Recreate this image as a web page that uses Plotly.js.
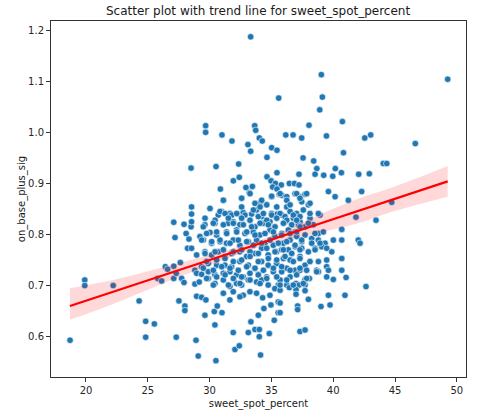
<!DOCTYPE html>
<html>
<head>
<meta charset="utf-8">
<script src="https://cdn.plot.ly/plotly-3.0.1.min.js"></script>
<style>html,body{margin:0;padding:0;background:#fff;}#chart{width:477px;height:414px;}</style>
</head>
<body>
<div id="chart"></div>
<script>
// sweet_spot_percent values (x) and on_base_plus_sig values (y)
const sweetSpot = [
  18.71,19.9,19.9,22.2,24.3,24.83,24.83,25.53,25.8,26.12,26.42,26.6,27.1,27.1,27.3,27.63,27.74,27.93,27.1,27.2,27.93,28.1,28.33,28.22,28.5,28.5,27.52,28.0,28.0,27.3,
  33.32,35.59,29.68,29.68,31.0,31.81,33.65,33.73,34.02,34.26,36.16,33.1,33.32,35.02,35.45,34.64,30.52,32.35,32.4,31.92,30.87,32.94,33.46,34.64,35.45,34.97,35.32,35.8,35.1,35.45,36.45,
  39.04,49.26,39.12,38.91,38.04,40.74,36.75,37.45,39.45,42.55,43.03,46.64,40.83,37.56,38.42,38.67,38.53,39.23,40.17,39.96,40.66,42.06,42.92,44.05,44.33,37.23,36.86,37.23,
  28.54,30.03,31.11,32.59,33.21,34.07,35.01,35.63,34.61,30.97,30.70,31.64,32.32,32.72,33.40,33.80,34.21,35.01,35.47,28.54,28.54,29.62,30.43,31.51,31.91,32.45,33.26,33.67,34.34,34.88,
  29.22,30.03,30.57,31.37,32.18,32.86,33.53,34.07,34.88,35.28,28.54,29.49,30.16,30.84,31.37,31.91,32.45,33.13,33.80,34.47,35.15,28.95,29.62,30.16,30.70,31.24,31.78,32.45,32.99,33.67,
  34.21,34.74,35.42,28.81,29.35,29.89,30.57,31.24,31.78,32.45,33.13,33.67,34.21,34.74,35.42,
  28.95,29.35,29.89,30.43,31.11,31.64,32.18,32.72,33.26,33.94,34.61,35.15,28.81,29.16,29.89,30.43,31.11,31.64,32.18,32.59,33.13,33.80,34.21,34.74,35.55,31.91,32.72,33.26,33.80,34.29,
  34.88,35.28,31.11,31.64,32.45,28.95,29.35,29.70,29.62,30.38,30.62,31.00,30.43,31.91,28.90,29.08,30.51,32.05,32.40,33.34,33.67,34.02,34.02,33.13,33.94,34.39,34.83,35.23,35.55,35.55,
  34.96,34.12,
  35.83,36.24,36.91,37.31,37.72,37.45,37.99,39.61,40.15,42.30,41.22,35.83,36.24,36.51,37.04,37.58,36.10,36.77,37.31,38.12,38.93,41.84,43.46,35.83,36.37,36.91,37.18,37.72,38.39,38.80,
  40.69,35.97,36.51,37.04,37.45,38.26,38.80,39.34,40.01,40.69,42.03,42.17,35.83,36.37,36.91,37.45,37.99,38.53,39.07,39.47,39.88,40.69,35.97,36.51,37.31,38.12,39.47,36.24,36.91,37.72,
  38.66,39.47,40.69,
  35.83,36.51,37.31,37.85,38.80,39.61,39.47,40.01,41.04,42.65,35.70,36.24,36.45,36.99,37.23,37.72,38.07,37.72,36.99,37.72,36.99,35.70,39.61,40.95,37.99,37.12,37.12,35.70,35.70,39.01,
  39.74,37.31,37.72,44.73
];
const onBasePlusSlg = [
  0.593,0.711,0.700,0.700,0.670,0.630,0.599,0.625,0.714,0.709,0.737,0.732,0.738,0.714,0.724,0.745,0.714,0.706,0.824,0.794,0.820,0.802,0.791,0.773,0.930,0.815,0.670,0.660,0.651,0.599,
  1.187,1.067,1.013,1.000,0.995,0.983,1.013,1.004,0.989,0.983,0.995,0.976,0.963,0.970,0.965,0.951,0.933,0.938,0.912,0.905,0.889,0.892,0.894,0.913,0.921,0.905,0.900,0.897,0.893,0.889,0.900,
  1.113,1.104,1.069,1.044,1.014,1.021,0.995,0.989,0.993,0.989,0.995,0.978,0.960,0.950,0.944,0.929,0.918,0.916,0.929,0.914,0.921,0.918,0.919,0.939,0.939,0.918,0.900,0.897,
  0.854,0.851,0.867,0.871,0.882,0.861,0.874,0.879,0.858,0.845,0.838,0.841,0.840,0.843,0.840,0.848,0.835,0.841,0.840,0.840,0.825,0.819,0.822,0.822,0.825,0.819,0.828,0.815,0.822,0.825,
  0.796,0.804,0.799,0.805,0.809,0.802,0.805,0.799,0.809,0.796,0.773,0.789,0.783,0.786,0.783,0.789,0.779,0.786,0.789,0.783,0.779,0.760,0.766,0.760,0.766,0.757,0.763,0.766,0.757,0.763,
  0.773,0.760,0.766,0.730,0.737,0.743,0.740,0.740,0.737,0.747,0.740,0.734,0.747,0.740,0.743,
  0.724,0.722,0.727,0.721,0.724,0.727,0.721,0.717,0.724,0.721,0.717,0.727,0.703,0.707,0.714,0.704,0.711,0.698,0.704,0.701,0.711,0.707,0.711,0.701,0.701,0.688,0.681,0.688,0.685,0.676,
  0.681,0.694,0.685,0.672,0.678,0.679,0.677,0.672,0.642,0.649,0.660,0.647,0.623,0.608,0.593,0.562,0.553,0.575,0.582,0.629,0.614,0.614,0.600,0.608,0.642,0.655,0.606,0.632,0.647,0.668,
  0.662,0.564,
  0.877,0.874,0.880,0.874,0.879,0.864,0.858,0.884,0.874,0.884,0.867,0.838,0.854,0.845,0.841,0.848,0.825,0.832,0.825,0.832,0.838,0.834,0.828,0.802,0.809,0.805,0.819,0.815,0.819,0.802,
  0.810,0.783,0.789,0.796,0.786,0.792,0.789,0.783,0.789,0.789,0.789,0.783,0.770,0.770,0.776,0.773,0.766,0.773,0.776,0.773,0.766,0.753,0.753,0.750,0.757,0.747,0.750,0.734,0.730,0.740,
  0.730,0.737,0.730,
  0.727,0.717,0.730,0.730,0.727,0.730,0.717,0.712,0.716,0.698,0.711,0.701,0.696,0.704,0.701,0.712,0.714,0.701,0.692,0.690,0.683,0.691,0.681,0.681,0.673,0.660,0.653,0.666,0.647,0.659,
  0.662,0.610,0.613,0.863
];
// additional points in the dense core of the cloud
const sweetSpotCore = [
  31.11,32.59,33.27,34.21,35.02,35.70,36.24,37.04,37.85,37.31,38.12,32.59,33.67,34.08,34.62,35.43,36.51,
  30.03,30.84,31.25,31.79,32.19,32.86,33.54,33.94,34.35,35.02,35.70,36.10,36.77,37.31,38.12,38.80,29.63,30.44,31.52,32.59,33.27,34.62,35.43,36.24,37.04,
  29.49,30.30,31.11,31.92,32.73,33.40,34.08,34.75,35.29,35.97,36.64,37.31,37.99,29.76,30.57,31.38,32.19,33.00,33.67,34.48,35.16,35.83,36.51,37.04,37.72,38.53,39.20,
  29.36,30.17,30.84,31.65,32.32,33.00,33.54,34.21,34.89,35.56,36.24,36.91,37.45,38.26,38.93,29.63,30.44,31.11,31.92,32.59,33.27,33.94,34.62,35.29,35.97,36.64,37.31,38.53,
  29.76,30.57,31.25,31.92,32.59,33.27,33.94,34.75,35.43,36.10,36.77,37.31,38.12,38.80,29.49,30.30,30.98,31.65,32.32,33.00,33.67,34.35,35.16,35.83,36.51,37.31,38.66,
  29.76,30.57,31.25,31.92,32.59,33.27,33.94,34.62,35.43,36.24,37.04,37.85,30.30,31.52,32.46,34.08,35.70,36.77,37.58
];
const opsCore = [
  0.867,0.871,0.880,0.867,0.875,0.880,0.867,0.880,0.880,0.871,0.861,0.854,0.861,0.854,0.858,0.854,0.858,
  0.851,0.845,0.841,0.838,0.841,0.838,0.848,0.835,0.841,0.838,0.841,0.835,0.838,0.835,0.841,0.841,0.832,0.828,0.832,0.832,0.828,0.828,0.832,0.828,0.828,
  0.815,0.822,0.819,0.822,0.819,0.815,0.822,0.819,0.815,0.822,0.819,0.815,0.822,0.802,0.805,0.802,0.805,0.805,0.799,0.802,0.805,0.799,0.802,0.805,0.799,0.802,0.805,
  0.789,0.786,0.789,0.783,0.789,0.786,0.779,0.783,0.789,0.783,0.786,0.779,0.789,0.783,0.783,0.763,0.766,0.770,0.766,0.770,0.766,0.763,0.773,0.766,0.770,0.763,0.770,0.770,
  0.747,0.750,0.753,0.747,0.750,0.757,0.747,0.753,0.750,0.757,0.747,0.753,0.747,0.747,0.734,0.730,0.737,0.734,0.730,0.737,0.734,0.730,0.734,0.737,0.730,0.734,0.727,
  0.714,0.717,0.721,0.714,0.717,0.711,0.721,0.714,0.717,0.711,0.721,0.714,0.701,0.701,0.704,0.704,0.701,0.701,0.704
];
// trend line and its confidence band
const trendX = [18.7, 22, 25, 28, 31, 33.5, 36, 39, 42, 45, 49.26];
const trendY = [0.660, 0.686, 0.710, 0.734, 0.758, 0.778, 0.798, 0.822, 0.846, 0.870, 0.904];
const bandLow = [0.633, 0.662, 0.692, 0.721, 0.749, 0.771, 0.789, 0.804, 0.822, 0.846, 0.874];
const bandHigh = [0.695, 0.710, 0.728, 0.747, 0.767, 0.785, 0.807, 0.840, 0.870, 0.894, 0.934];
const xTickVals = [20, 25, 30, 35, 40, 45, 50];
const yTickVals = [0.6, 0.7, 0.8, 0.9, 1.0, 1.1, 1.2];

const n1 = Math.min(sweetSpot.length, onBasePlusSlg.length);
const n2 = Math.min(sweetSpotCore.length, opsCore.length);
const xs = sweetSpot.slice(0, n1).concat(sweetSpotCore.slice(0, n2));
const ys = onBasePlusSlg.slice(0, n1).concat(opsCore.slice(0, n2));

const font = "DejaVu Sans, Liberation Sans, sans-serif";
const traces = [
  { x: xs, y: ys, type: 'scatter', mode: 'markers', hoverinfo: 'skip',
    marker: { color: '#1f77b4', size: 6.5, line: { color: '#ffffff', width: 0.6 } } },
  { x: trendX, y: bandLow, type: 'scatter', mode: 'lines', line: { width: 0, shape: 'spline' }, hoverinfo: 'skip' },
  { x: trendX, y: bandHigh, type: 'scatter', mode: 'lines', line: { width: 0, shape: 'spline' }, fill: 'tonexty',
    fillcolor: 'rgba(255,0,0,0.15)', hoverinfo: 'skip' },
  { x: trendX, y: trendY, type: 'scatter', mode: 'lines', line: { color: '#ff0000', width: 2.2 }, hoverinfo: 'skip' }
];
const axisCommon = {
  showgrid: false, zeroline: false, showline: true, mirror: true,
  linecolor: '#333333', linewidth: 1, ticks: 'outside', ticklen: 4, tickwidth: 1,
  tickcolor: '#333333', tickfont: { family: font, size: 10, color: '#262626' }
};
const layout = {
  width: 477, height: 414, showlegend: false,
  paper_bgcolor: '#ffffff', plot_bgcolor: '#ffffff',
  margin: { l: 51, r: 11, t: 21, b: 37 },
  title: { text: 'Scatter plot with trend line for sweet_spot_percent', x: 0.541, xanchor: 'center',
           y: 0.975, yanchor: 'middle', font: { family: font, size: 12, color: '#1a1a1a' } },
  xaxis: Object.assign({}, axisCommon, { range: [17.17, 50.74], tickvals: xTickVals,
    title: { text: 'sweet_spot_percent', standoff: 4, font: { family: font, size: 10, color: '#1a1a1a' } } }),
  yaxis: Object.assign({}, axisCommon, { range: [0.521, 1.218], tickvals: yTickVals, tickformat: '.1f',
    title: { text: 'on_base_plus_sig', standoff: 0, font: { family: font, size: 10, color: '#1a1a1a' } } })
};
Plotly.newPlot('chart', traces, layout, { displayModeBar: false, staticPlot: true });
</script>
</body>
</html>
